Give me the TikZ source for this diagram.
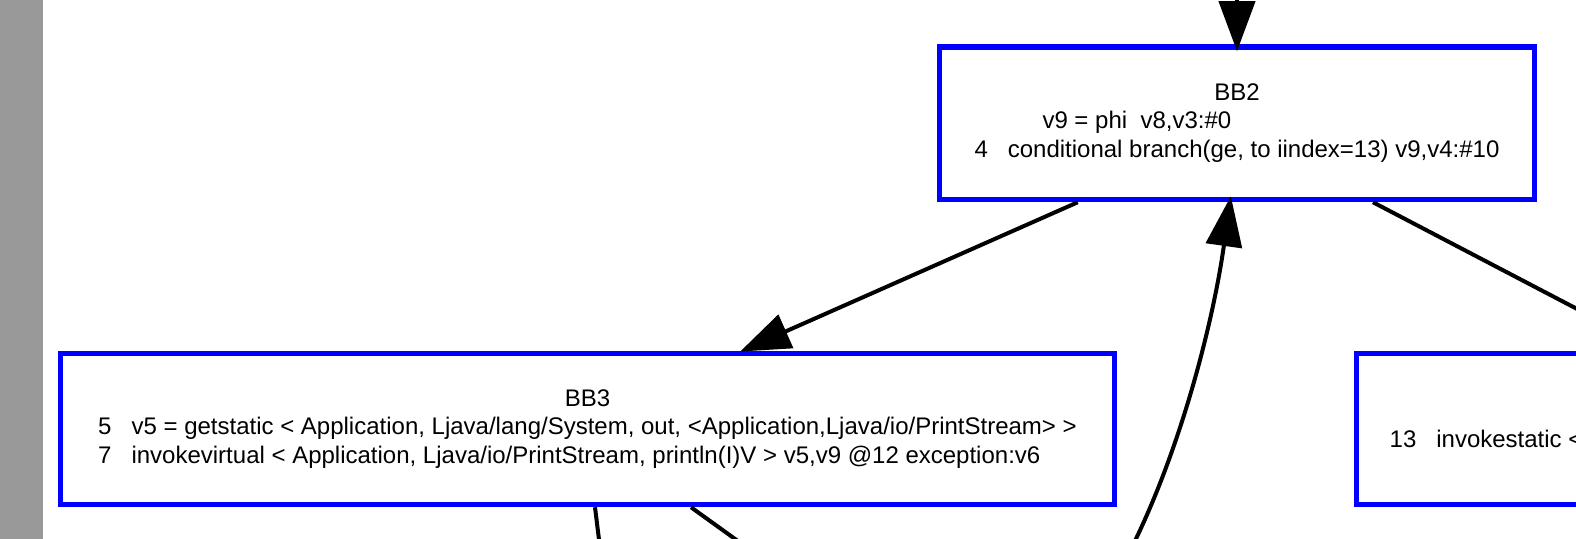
\documentclass[tikz,border=0pt]{standalone}
\usepackage{fontspec}
\setmainfont{Liberation Sans}
\usetikzlibrary{arrows.meta,calc}
\definecolor{barGray}{RGB}{153,153,153}
\definecolor{boxBlue}{RGB}{0,0,255}
\begin{document}
\begin{tikzpicture}[x=0.5pt,y=-0.5pt,
  bb/.style={draw=boxBlue, line width=2.75pt, rectangle, inner sep=0pt,
    font=\fontsize{12pt}{14.2pt}\selectfont},
  txt/.style={inner sep=0pt, font=\fontsize{12pt}{14.2pt}\selectfont},
  edge/.style={line width=2pt, -{Triangle[length=25pt,width=18pt]}},
  plainedge/.style={line width=2pt}]
\useasboundingbox (0,0) rectangle (1576,539);
\clip (0,0) rectangle (1576,539);
\fill[barGray] (0,0) rectangle (43,539);
% blocks
\node[bb, minimum width=297.5pt, minimum height=76.25pt] (bb2) at (1237,123.25)
  {\begin{tabular}{@{}l@{}}\multicolumn{1}{@{}c@{}}{BB2}\\
   \hspace*{34pt}v9 = phi\ \ v8,v3:\#0\\
   4\ \ \ conditional branch(ge, to iindex=13) v9,v4:\#10\end{tabular}};
\node[bb, minimum width=527pt, minimum height=75.5pt] (bb3) at (587.5,429)
  {\begin{tabular}{@{}l@{}}\multicolumn{1}{@{}c@{}}{BB3}\\
   5\ \ \ v5 = getstatic < Application, Ljava/lang/System, out, <Application,Ljava/io/PrintStream> >\\
   7\ \ \ invokevirtual < Application, Ljava/io/PrintStream, println(I)V > v5,v9 @12 exception:v6\end{tabular}};
\node[bb, minimum width=500pt, minimum height=75.5pt] (bb4) at (1856.5,429) {};
\node[txt, anchor=base west] (t4) at ($(bb4.west)+(35.5,19)$) {13\ \ \ invokestatic <};
% connectors
\coordinate (in2) at (1237,-40);
\draw[edge, shorten >=-3.5pt] (in2) -- (bb2.north);
\draw[edge, shorten >=-1pt] ($(bb2.south west)+(141,0)$) -- ($(bb3.north west)+(684.25,0)$);
\draw[edge] ($(bb2.south west)+(436.25,0)$) -- ($(bb4.north west)+(303.25,0)$);
\coordinate (o1) at (604,580);
\coordinate (o2) at (792,580);
\draw[plainedge] ($(bb3.south west)+(537.25,0)$) -- (o1);
\draw[plainedge] ($(bb3.south west)+(633.25,0)$) -- (o2);
\coordinate (c0) at (1120,570);
\draw[edge, shorten >=-3pt] (c0) .. controls (1175,470) and (1212,330) .. ($(bb2.south west)+(293.25,0)$);
\end{tikzpicture}
\end{document}
